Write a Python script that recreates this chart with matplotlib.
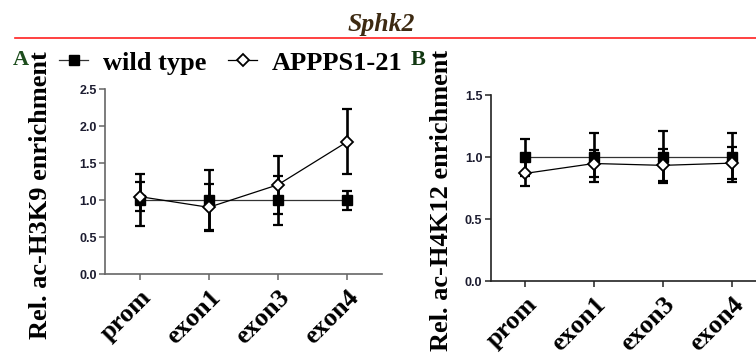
import matplotlib
matplotlib.use('Agg')
from matplotlib import pyplot as plt
from matplotlib.lines import Line2D
import matplotlib.transforms as mtransforms

# data
regions = ['prom', 'exon1', 'exon3', 'exon4']

h3k9_wt = [1.0, 1.0, 1.0, 1.0]
h3k9_wt_err = [0.35, 0.41, 0.33, 0.13]
h3k9_app = [1.05, 0.905, 1.21, 1.79]
h3k9_app_err = [0.20, 0.31, 0.39, 0.44]

h4k12_wt = [1.0, 1.0, 1.0, 1.0]
h4k12_wt_err = [0.15, 0.20, 0.21, 0.20]
h4k12_app = [0.87, 0.95, 0.935, 0.953]
h4k12_app_err = [0.10, 0.105, 0.13, 0.13]

SERIF = 'Liberation Serif'
SANS = 'Liberation Sans'
W, H = 756, 354


def draw_panel(ax, wt, wt_err, app, app_err, ymax, spine_color):
    x = list(range(len(regions)))
    ax.errorbar(x, wt, yerr=wt_err, fmt='none', ecolor='black',
                elinewidth=1.9, capsize=3.5, capthick=1.6, zorder=2)
    ax.errorbar(x, app, yerr=app_err, fmt='none', ecolor='black',
                elinewidth=1.9, capsize=3.5, capthick=1.6, zorder=2)
    ax.plot(x, wt, '-', color='#333333', lw=0.9, marker='s', ms=6.5,
            mfc='black', mec='black', zorder=3, label='wild type')
    ax.plot(x, app, '-', color='black', lw=0.9, marker='D', ms=5.8,
            mfc='white', mec='black', mew=1.3, zorder=4, label='APPPS1-21')

    ax.set_xlim(-0.5, 3.5)
    ax.set_ylim(0, ymax)
    ticks = [i * 0.5 for i in range(int(ymax / 0.5) + 1)]
    ax.set_yticks(ticks)
    ax.set_yticklabels(['%.1f' % t for t in ticks],
                       fontfamily=SANS, fontweight='bold', fontsize=9,
                       color='#1c1c30')
    ax.set_xticks(x)
    ax.set_xticklabels(regions, rotation=45, ha='right', va='top',
                       rotation_mode='anchor', fontfamily=SERIF,
                       fontweight='bold', fontsize=19)
    offset = mtransforms.ScaledTranslation(8 / 100, 0, ax.figure.dpi_scale_trans)
    for lab in ax.get_xticklabels():
        lab.set_transform(lab.get_transform() + offset)

    for side in ('top', 'right'):
        ax.spines[side].set_visible(False)
    for side in ('left', 'bottom'):
        ax.spines[side].set_color(spine_color)
        ax.spines[side].set_linewidth(1.2)
    ax.tick_params(direction='out', length=4, width=1.1, color=spine_color)
    ax.tick_params(axis='y', pad=2)
    ax.tick_params(axis='x', pad=4)


fig = plt.figure(figsize=(W / 100, H / 100), dpi=100)

ax_a = fig.add_axes([105 / W, 1 - 274.3 / H, 276.7 / W, 185 / H])
ax_b = fig.add_axes([490.7 / W, 1 - 281.3 / H, 275.3 / W, 186 / H])

draw_panel(ax_a, h3k9_wt, h3k9_wt_err, h3k9_app, h3k9_app_err, 2.5, '#666666')
draw_panel(ax_b, h4k12_wt, h4k12_wt_err, h4k12_app, h4k12_app_err, 1.5, '#222222')

# y labels
fig.text(41 / W, 1 - 195 / H, 'Rel. ac-H3K9 enrichment', rotation=90,
         ha='center', va='center', fontfamily=SERIF, fontweight='bold',
         fontsize=19)
fig.text(441 / W, 1 - 200 / H, 'Rel. ac-H4K12 enrichment', rotation=90,
         ha='center', va='center', fontfamily=SERIF, fontweight='bold',
         fontsize=19)

# header
fig.text(381 / W, 1 - 31 / H, 'Sphk2', ha='center', va='baseline',
         fontfamily=SERIF, fontweight='bold', fontstyle='italic',
         fontsize=18.5, color='#3d2a12')
fig.add_artist(Line2D([15 / W, 1.0], [1 - 38.3 / H, 1 - 38.3 / H],
                      transform=fig.transFigure, color='#ff2020', lw=1.2))

fig.text(12.5 / W, 1 - 65 / H, 'A', ha='left', va='baseline',
         fontfamily=SERIF, fontweight='bold', fontsize=16, color='#1d4d1d')
fig.text(411 / W, 1 - 65 / H, 'B', ha='left', va='baseline',
         fontfamily=SERIF, fontweight='bold', fontsize=16, color='#123812')

handles, labels = ax_a.get_legend_handles_labels()
fig.legend(handles, labels, loc='center left', bbox_to_anchor=(59 / W, 1 - 63 / H),
           ncol=2, frameon=False, borderpad=0, borderaxespad=0,
           handlelength=1.1, handletextpad=0.55, columnspacing=0.85,
           prop={'family': SERIF, 'weight': 'bold', 'size': 19})

fig.savefig('out.png', dpi=100)
